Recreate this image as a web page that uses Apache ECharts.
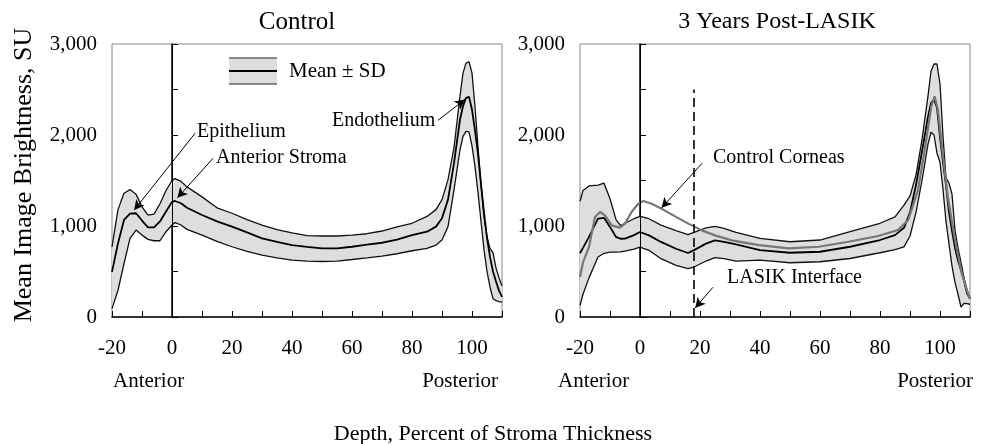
<!DOCTYPE html>
<html>
<head>
<meta charset="utf-8">
<script src="https://cdn.jsdelivr.net/npm/echarts@6/dist/echarts.min.js"></script>
<style>
  html, body { margin: 0; background: #fff; }
  #chart { width: 987px; height: 444px; }
</style>
</head>
<body>
<div id="chart"></div>
<script>
// Control corneas (left panel), brightness in SU
const ctlDepth = [-20, -18, -16, -14, -12, -10, -8, -6, -4, -2, 0, 1, 3, 5, 10, 15, 20, 25, 30, 35, 40, 45, 50, 55, 60, 65, 70, 75, 80, 85, 88, 90, 92, 94, 96, 97, 98, 99, 100, 101, 102, 103, 104, 105, 106, 107, 108, 109, 110]
const ctlUpper = [770, 1180, 1360, 1400, 1350, 1210, 1120, 1130, 1245, 1390, 1500, 1520, 1490, 1430, 1320, 1200, 1140, 1070, 1010, 960, 925, 895, 890, 890, 900, 915, 945, 990, 1030, 1105, 1180, 1290, 1510, 1860, 2430, 2680, 2790, 2805, 2680, 2310, 1870, 1450, 1100, 880, 755, 705, 540, 430, 340]
const ctlMean = [496, 809, 1066, 1135, 1140, 1060, 985, 985, 1050, 1160, 1265, 1275, 1250, 1200, 1121, 1050, 993, 930, 864, 825, 790, 770, 754, 755, 772, 795, 816, 850, 900, 937, 993, 1085, 1290, 1690, 2170, 2316, 2408, 2420, 2280, 2050, 1790, 1460, 1150, 870, 660, 500, 390, 290, 220]
const ctlLower = [92, 294, 588, 864, 956, 900, 853, 838, 838, 937, 1011, 1037, 1011, 963, 900, 830, 772, 720, 680, 650, 625, 615, 610, 615, 632, 650, 669, 695, 728, 754, 790, 846, 993, 1397, 1838, 1985, 2040, 2035, 1880, 1650, 1370, 1050, 740, 500, 330, 200, 180, 170, 165]

// 3 years post-LASIK (right panel)
const lasikDepth = [-20, -19, -17, -14, -12, -10, -8, -6.5, -5, -2, 0, 3, 7, 12, 16, 18, 22, 25, 28, 32, 40, 50, 60, 70, 80, 85, 88, 90, 92, 94, 96, 97, 98, 99, 100, 101, 102, 103, 104, 105, 106, 107, 108, 109, 110]
const lasikUpper = [1270, 1390, 1440, 1450, 1470, 1300, 1070, 1005, 1030, 1080, 1106, 1080, 1010, 950, 905, 930, 980, 996, 975, 930, 864, 827, 846, 937, 1030, 1100, 1230, 1330, 1560, 1950, 2430, 2700, 2780, 2780, 2560, 1985, 1530, 1470, 1350, 950, 760, 600, 430, 300, 200]
const lasikMean = [700, 760, 880, 1080, 1090, 990, 880, 860, 861, 900, 934, 897, 825, 750, 703, 735, 806, 842, 825, 798, 735, 706, 717, 772, 846, 900, 980, 1150, 1450, 1820, 2200, 2350, 2390, 2300, 1980, 1700, 1450, 1150, 950, 760, 620, 515, 400, 260, 200]
const lasikLower = [128, 250, 430, 659, 700, 714, 714, 715, 725, 745, 769, 733, 641, 568, 531, 549, 615, 652, 641, 615, 625, 596, 607, 643, 706, 740, 770, 890, 1150, 1500, 1900, 2030, 2000, 1800, 1700, 1400, 1050, 800, 560, 380, 250, 110, 150, 147, 140]

// control mean overlaid on the right panel (gray line)
const refDepth = [-20, -19, -17, -15, -13.3, -11.7, -9.4, -6.7, -5, -2.8, -0.6, 1.1, 3.9, 7.2, 11.7, 16.1, 20.6, 25, 30.6, 39.6, 49.6, 59.6, 69.5, 79.4, 86, 89.4, 92.7, 94.9, 97.1, 98.2, 99.3, 101, 102.6, 104.8, 107, 109.3, 110]
const refMean = [440, 600, 769, 1099, 1154, 1117, 1007, 982, 1026, 1154, 1245, 1275, 1245, 1190, 1106, 1026, 952, 897, 842, 790, 754, 772, 827, 890, 956, 1066, 1397, 1838, 2316, 2426, 2279, 1765, 1324, 882, 515, 257, 200]

const interfaceDepth = 18
const interfaceTop = 2500

const serif = "'Liberation Serif', 'Times New Roman', serif"
const bandColor = '#dedede'

function pairs(xs, ys) {
  return xs.map((x, i) => [x, ys[i]])
}

// shaded SD band as one polygon + black outline for upper and lower
function band(idx, xs, upper, lower) {
  const common = { xAxisIndex: idx, yAxisIndex: idx, silent: true }
  return [
    Object.assign({}, common, {
      type: 'custom', z: 1,
      data: xs.map((x, i) => [x, lower[i], upper[i]]),
      encode: { x: 0, y: [1, 2] },
      renderItem: (params, api) => {
        if (params.dataIndex !== 0) return null
        const top = xs.map((x, i) => api.coord([x, upper[i]]))
        const bottom = xs.map((x, i) => api.coord([x, lower[i]])).reverse()
        return { type: 'polygon', shape: { points: top.concat(bottom) }, style: { fill: bandColor } }
      }
    }),
    Object.assign({}, common, { type: 'line', symbol: 'none', data: pairs(xs, upper), lineStyle: { color: '#111', width: 1.3 } }),
    Object.assign({}, common, { type: 'line', symbol: 'none', data: pairs(xs, lower), lineStyle: { color: '#111', width: 1.3 } })
  ]
}

function arrow(from, to) {
  return [{ coord: from }, { coord: to }]
}

const arrowStyle = { color: '#000', width: 1, type: 'solid' }

function xAxis(idx) {
  return {
    gridIndex: idx, type: 'value', min: -20, max: 110, interval: 10,
    axisLine: { show: true, onZero: false, lineStyle: { color: '#000', width: 1.5 } },
    axisTick: { inside: true, length: 6, lineStyle: { color: '#000', width: 1 } },
    axisLabel: {
      formatter: v => (v % 20 === 0 ? String(v) : ''),
      fontFamily: serif, fontSize: 21, color: '#000', margin: 21
    },
    splitLine: { show: false }
  }
}

function yAxis(idx) {
  return {
    gridIndex: idx, type: 'value', min: 0, max: 3000, interval: 500,
    axisLine: { show: true, lineStyle: { color: '#000', width: 1.5 } },
    axisTick: { inside: true, length: 6, lineStyle: { color: '#000', width: 1 } },
    axisLabel: {
      formatter: v => (v % 1000 === 0 ? v.toLocaleString('en-US') : ''),
      fontFamily: serif, fontSize: 21, color: '#000', margin: 15
    },
    splitLine: { show: false }
  }
}

function txt(x, y, text, extra) {
  return {
    type: 'text', x: x, y: y, silent: true,
    style: Object.assign({ text: text, font: '20px ' + serif, fill: '#000', textVerticalAlign: 'middle' }, extra || {})
  }
}

const chart = echarts.init(document.getElementById('chart'))

chart.setOption({
  animation: false,
  grid: [
    { left: 112, top: 44, width: 390, height: 273, show: true, borderColor: '#888', borderWidth: 1 },
    { left: 580, top: 44, width: 390, height: 273, show: true, borderColor: '#888', borderWidth: 1 }
  ],
  xAxis: [xAxis(0), xAxis(1)],
  yAxis: [yAxis(0), yAxis(1)],
  series: [
    ...band(0, ctlDepth, ctlUpper, ctlLower),
    {
      type: 'line', xAxisIndex: 0, yAxisIndex: 0, symbol: 'none', silent: true,
      data: pairs(ctlDepth, ctlMean),
      lineStyle: { color: '#000', width: 1.8 },
      markLine: {
        silent: true, symbol: ['none', 'arrow'], symbolSize: [8, 10], label: { show: false },
        lineStyle: arrowStyle,
        data: [
          [{ coord: [0, 0], symbol: 'none' }, { coord: [0, 3000], symbol: 'none' }],
          arrow([7.7, 2019], [-12.6, 1175]),
          arrow([13.7, 1744], [1.8, 1310]),
          arrow([88.7, 2162], [97.6, 2390])
        ]
      }
    },
    ...band(1, lasikDepth, lasikUpper, lasikLower),
    {
      type: 'line', xAxisIndex: 1, yAxisIndex: 1, symbol: 'none', silent: true,
      data: pairs(lasikDepth, lasikMean),
      lineStyle: { color: '#000', width: 1.8 }
    },
    {
      type: 'line', xAxisIndex: 1, yAxisIndex: 1, symbol: 'none', silent: true,
      data: pairs(refDepth, refMean),
      lineStyle: { color: '#777', width: 2.2 },
      markLine: {
        silent: true, symbol: ['none', 'arrow'], symbolSize: [8, 10], label: { show: false },
        lineStyle: arrowStyle,
        data: [
          [{ coord: [0, 0], symbol: 'none' }, { coord: [0, 3000], symbol: 'none' }],
          [{ coord: [interfaceDepth, 0], symbol: 'none', lineStyle: { type: [9, 5], width: 1.6, color: '#000' } },
           { coord: [interfaceDepth, interfaceTop], symbol: 'none' }],
          arrow([20.7, 1689], [7.2, 1200]),
          arrow([24.3, 326], [18.4, 100])
        ]
      }
    }
  ],
  graphic: [
    txt(297, 22, 'Control', { font: '25px ' + serif, textAlign: 'center' }),
    txt(777, 22, '3 Years Post-LASIK', { font: '24px ' + serif, textAlign: 'center' }),
    {
      type: 'text', x: 24, y: 175, rotation: Math.PI / 2, silent: true,
      style: { text: 'Mean Image Brightness, SU', font: '26px ' + serif, fill: '#000', textAlign: 'center', textVerticalAlign: 'middle' }
    },
    txt(493, 434, 'Depth, Percent of Stroma Thickness', { font: '22px ' + serif, textAlign: 'center' }),
    txt(113, 381, 'Anterior', { font: '21px ' + serif }),
    txt(498, 381, 'Posterior', { font: '21px ' + serif, textAlign: 'right' }),
    txt(558, 381, 'Anterior', { font: '21px ' + serif }),
    txt(973, 381, 'Posterior', { font: '21px ' + serif, textAlign: 'right' }),
    // legend swatch
    { type: 'rect', shape: { x: 229, y: 58, width: 48, height: 26 }, style: { fill: bandColor }, silent: true },
    { type: 'line', shape: { x1: 229, y1: 58, x2: 277, y2: 58 }, style: { stroke: '#222', lineWidth: 1 }, silent: true },
    { type: 'line', shape: { x1: 229, y1: 84, x2: 277, y2: 84 }, style: { stroke: '#222', lineWidth: 1 }, silent: true },
    { type: 'line', shape: { x1: 229, y1: 71, x2: 277, y2: 71 }, style: { stroke: '#000', lineWidth: 2 }, silent: true },
    txt(289, 71, 'Mean ± SD', { font: '21px ' + serif }),
    // annotations
    txt(197, 132, 'Epithelium'),
    txt(216, 158, 'Anterior Stroma'),
    txt(332, 121, 'Endothelium'),
    txt(713, 158, 'Control Corneas'),
    txt(727, 278, 'LASIK Interface')
  ]
})
</script>
</body>
</html>
